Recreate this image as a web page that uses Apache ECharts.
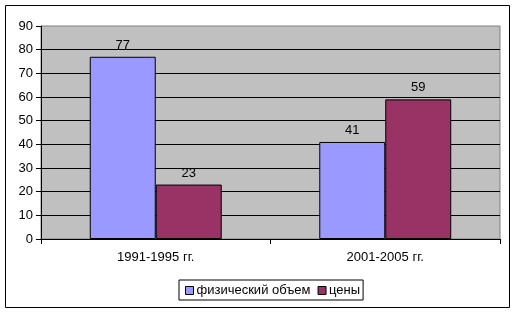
<!DOCTYPE html>
<html><head><meta charset="utf-8">
<script src="https://cdn.jsdelivr.net/npm/echarts@6/dist/echarts.min.js"></script>
<style>html,body{margin:0;padding:0;background:#fff}#c{width:516px;height:314px}</style>
</head><body><div id="c"></div>
<script>
const categories = ['1991-1995 гг.', '2001-2005 гг.'];
const seriesNames = ['физический объем', 'цены'];
const physVolume = [77, 41];
const prices = [23, 59];

const chart = echarts.init(document.getElementById('c'), null, {renderer: 'canvas'});
const font = 'Liberation Sans, Arial, sans-serif';
const fs = 13;
chart.setOption({
  animation: false,
  textStyle: {fontFamily: font},
  graphic: [{type: 'rect', shape: {x: 5.5, y: 5.5, width: 504, height: 302}, style: {fill: 'none', stroke: '#000', lineWidth: 1}, z: 100}],
  grid: {left: 41, right: 16, top: 26, bottom: 75, show: true, backgroundColor: '#C0C0C0', borderColor: '#808080', borderWidth: 1},
  legend: {
    left: 179, top: 280, data: seriesNames,
    borderColor: '#000', borderWidth: 1, padding: [4, 3, 3, 6],
    itemWidth: 8, itemHeight: 8, itemGap: 7,
    icon: 'rect',
    itemStyle: {borderColor: '#000', borderWidth: 1},
    textStyle: {fontFamily: font, fontSize: fs, color: '#000', padding: [0, 0, 0, -2]}
  },
  xAxis: {
    type: 'category', data: categories,
    axisLine: {lineStyle: {color: '#000'}},
    axisTick: {show: true, length: 5, lineStyle: {color: '#000'}},
    axisLabel: {color: '#000', fontSize: fs, fontFamily: font, margin: 12}
  },
  yAxis: {
    type: 'value', min: 0, max: 90, interval: 10,
    axisLine: {show: true, lineStyle: {color: '#000'}},
    axisTick: {show: true, length: 5, lineStyle: {color: '#000'}},
    axisLabel: {color: '#000', fontSize: fs, fontFamily: font, margin: 8},
    splitLine: {show: true, showMaxLine: false, lineStyle: {color: '#000', width: 1}}
  },
  series: [
    {name: seriesNames[0], type: 'bar', data: physVolume, barGap: '0%', barCategoryGap: '42.5%',
     itemStyle: {color: '#9999FF', borderColor: '#000', borderWidth: 1},
     label: {show: true, position: 'top', color: '#000', fontSize: fs, fontFamily: font, distance: 5}},
    {name: seriesNames[1], type: 'bar', data: prices,
     itemStyle: {color: '#993366', borderColor: '#000', borderWidth: 1},
     label: {show: true, position: 'top', color: '#000', fontSize: fs, fontFamily: font, distance: 5}}
  ]
});
</script></body></html>
